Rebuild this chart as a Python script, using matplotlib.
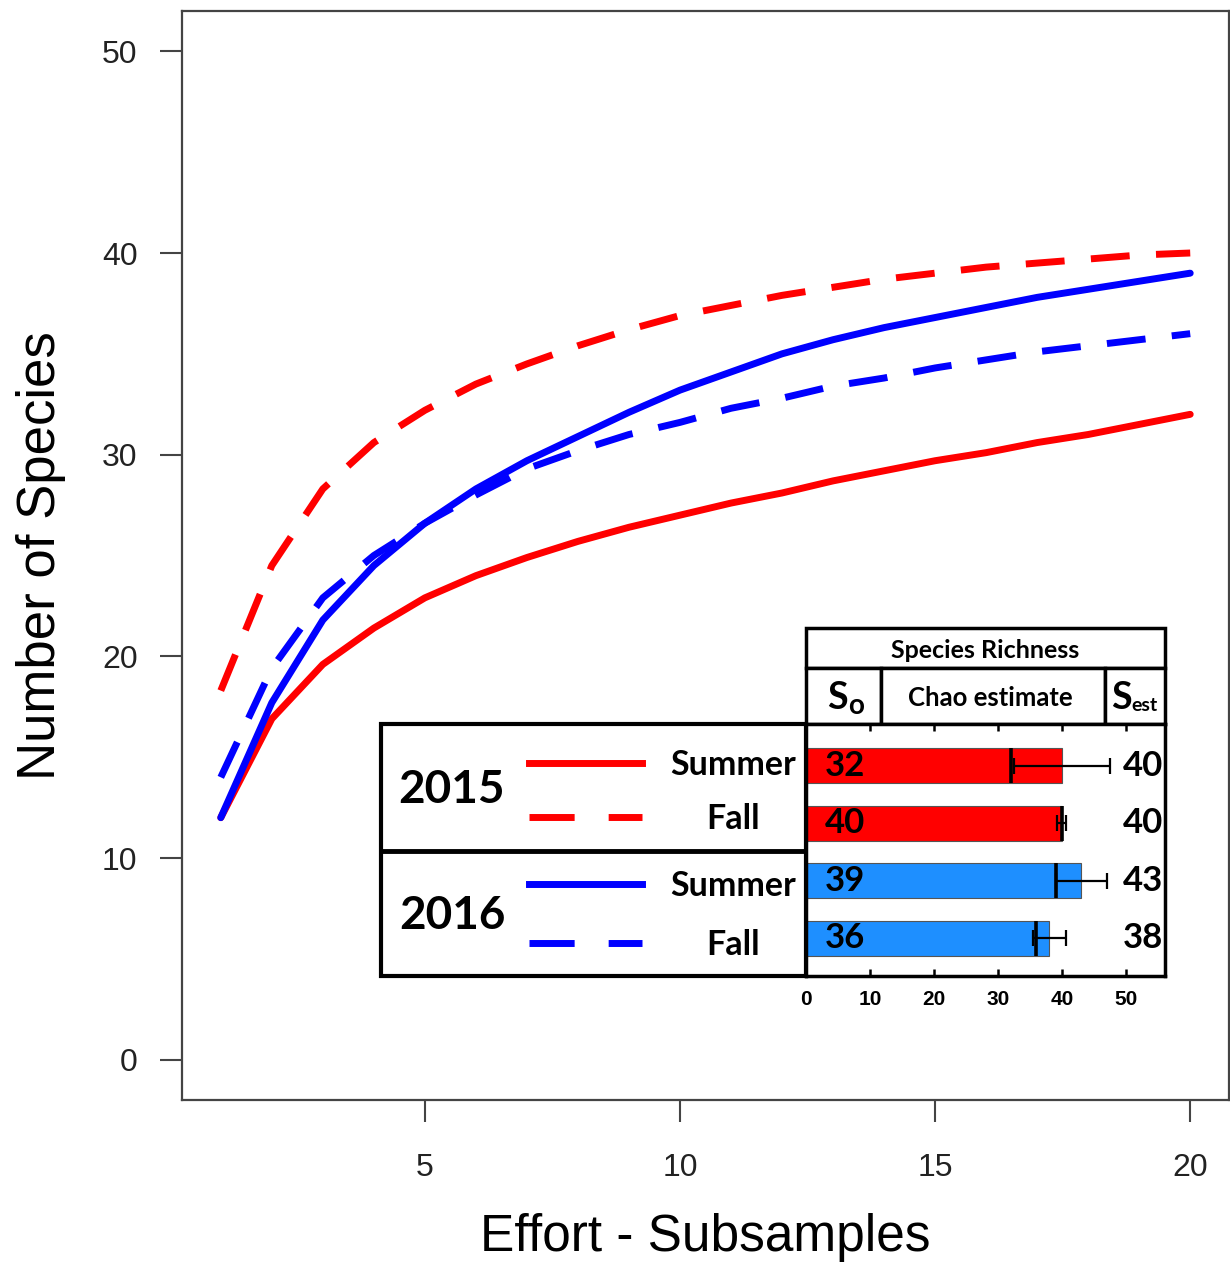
import numpy as np
import matplotlib
matplotlib.use('Agg')
import matplotlib.pyplot as plt
from matplotlib.patches import Rectangle
from matplotlib.lines import Line2D

# rarefaction curves: species found vs. number of subsamples
effort = list(range(1, 21))
summer_2015 = [12.0, 16.9, 19.6, 21.4, 22.9, 24.0, 24.9, 25.7, 26.4, 27.0,
               27.6, 28.1, 28.7, 29.2, 29.7, 30.1, 30.6, 31.0, 31.5, 32.0]
fall_2015 = [18.3, 24.5, 28.3, 30.6, 32.2, 33.5, 34.5, 35.4, 36.2, 36.9,
             37.4, 37.9, 38.3, 38.7, 39.0, 39.3, 39.5, 39.7, 39.9, 40.0]
summer_2016 = [12.0, 17.7, 21.8, 24.5, 26.6, 28.3, 29.7, 30.9, 32.1, 33.2,
               34.1, 35.0, 35.7, 36.3, 36.8, 37.3, 37.8, 38.2, 38.6, 39.0]
fall_2016 = [14.0, 19.4, 22.9, 25.0, 26.6, 28.0, 29.3, 30.2, 31.0, 31.6,
             32.3, 32.8, 33.4, 33.8, 34.3, 34.7, 35.1, 35.4, 35.7, 36.0]

# species richness table (rows: 2015 summer, 2015 fall, 2016 summer, 2016 fall)
s_obs = [32, 40, 39, 36]
chao_est = [40, 40, 43, 38]
chao_sd = [7.5, 0.7, 4.0, 2.6]
years = ['2015', '2016']
seasons = ['Summer', 'Fall']

RED = '#ff0000'
BLUE = '#0000ff'
BAR_COLORS = ['#ff0000', '#ff0000', '#1e8fff', '#1e8fff']

W, H = 1230, 1262
fig = plt.figure(figsize=(W / 100, H / 100), dpi=100)

def fbox(x0, y0, x1, y1):
    # pixel box (top-left origin) -> figure fraction rect
    return [x0 / W, 1 - y1 / H, (x1 - x0) / W, (y1 - y0) / H]

# ---- main rarefaction plot ----
ax = fig.add_axes(fbox(182, 11, 1229, 1100))
series = [(summer_2015, RED, '-'), (fall_2015, RED, '--'),
          (summer_2016, BLUE, '-'), (fall_2016, BLUE, '--')]
for vals, col, ls in series:
    line, = ax.plot(effort, vals, color=col, lw=5, solid_capstyle='round')
    if ls == '--':
        line.set_dashes((5.6, 3.8))

ax.set_xlim(0.24, 20.76)
ax.set_ylim(-2, 52)
ax.set_xticks([5, 10, 15, 20])
ax.set_yticks([0, 10, 20, 30, 40, 50])
for s in ax.spines.values():
    s.set_color('#444444')
    s.set_linewidth(1.6)
ax.tick_params(axis='both', length=16, width=1.5, color='#444444',
               labelcolor='#222222', labelsize=23)
ax.tick_params(axis='y', pad=16)
ax.tick_params(axis='x', pad=22)
for lab in ax.get_xticklabels() + ax.get_yticklabels():
    lab.set_family('Liberation Sans')
ax.set_xlabel('Effort - Subsamples', family='Liberation Sans', fontsize=37,
              labelpad=22)
ax.set_ylabel('Number of Species', family='Liberation Sans', fontsize=38,
              labelpad=26)

# ---- overlay for the inset table and legend ----
ov = fig.add_axes([0, 0, 1, 1], zorder=3)
ov.set_xlim(0, W)
ov.set_ylim(H, 0)
ov.axis('off')

def box(x0, y0, x1, y1, lw=2.5):
    ov.add_patch(Rectangle((x0, y0), x1 - x0, y1 - y0, facecolor='white',
                           edgecolor='black', lw=lw))

box(381, 724, 806, 976, lw=3)
ov.plot([381, 806], [851, 851], color='black', lw=3.5)
box(806, 628, 1165, 668)
box(806, 668, 881, 724)
box(881, 668, 1105, 724)
box(1105, 668, 1165, 724)

bold = dict(family='Lato', fontweight='bold', color='black')
ov.text(985, 650, 'Species Richness', fontsize=18, ha='center', va='center', **bold)
ov.text(990, 698, 'Chao estimate', fontsize=18.5, ha='center', va='center', **bold)
ov.text(837, 709, 'S', fontsize=27, ha='center', va='baseline', **bold)
ov.text(856, 714, 'o', fontsize=20, ha='center', va='baseline', **bold)
ov.text(1121, 709, 'S', fontsize=27, ha='center', va='baseline', **bold)
ov.text(1144, 711, 'est', fontsize=14, ha='center', va='baseline', **bold)

# legend block: year labels with season line samples
year_y = [790, 916]
row_y = [[763, 817], [884, 943]]
year_cols = [RED, BLUE]
for yi, yr in enumerate(years):
    ov.text(452, year_y[yi], yr, fontsize=33, ha='center', va='center', **bold)
    for si, season in enumerate(seasons):
        ly = row_y[yi][si]
        ln = Line2D([529, 642], [ly, ly], color=year_cols[yi], lw=5)
        if season == 'Fall':
            ln.set_dashes((6.5, 4.9))
        ov.add_line(ln)
        ov.text(733, ly + 2, season, fontsize=24.5, ha='center', va='center', **bold)

# ---- inset bar chart of Chao estimates ----
bax = fig.add_axes(fbox(806, 724, 1165, 976), zorder=4)
ypos = np.arange(len(s_obs))
bar_h = 0.61
bax.barh(ypos, chao_est, height=bar_h, color=BAR_COLORS, edgecolor='#555555',
         lw=0.8, zorder=2)
bax.vlines(s_obs, ypos - bar_h / 2, ypos + bar_h / 2, color='black', lw=2.6,
           zorder=3)
bax.errorbar(chao_est, ypos, xerr=chao_sd, fmt='none', ecolor='black',
             elinewidth=1.6, capsize=6, capthick=1.6, zorder=3)
for i in range(len(s_obs)):
    bax.text(2.9, ypos[i], str(s_obs[i]), fontsize=25, ha='left', va='center',
             zorder=4, **bold)
    bax.text(55.8, ypos[i], str(chao_est[i]), fontsize=25, ha='right',
             va='center', zorder=4, **bold)
bax.set_xlim(0, 56.1)
bax.set_ylim(3.66, -0.73)
bax.set_yticks([])
bax.set_xticks([0, 10, 20, 30, 40, 50])
bax.tick_params(axis='x', direction='in', top=True, length=5, width=1.8,
                labelsize=15, pad=10)
for lab in bax.get_xticklabels():
    lab.set_family('Liberation Sans')
    lab.set_fontweight('bold')
for s in bax.spines.values():
    s.set_linewidth(2.5)

fig.savefig('out.png', dpi=100)
